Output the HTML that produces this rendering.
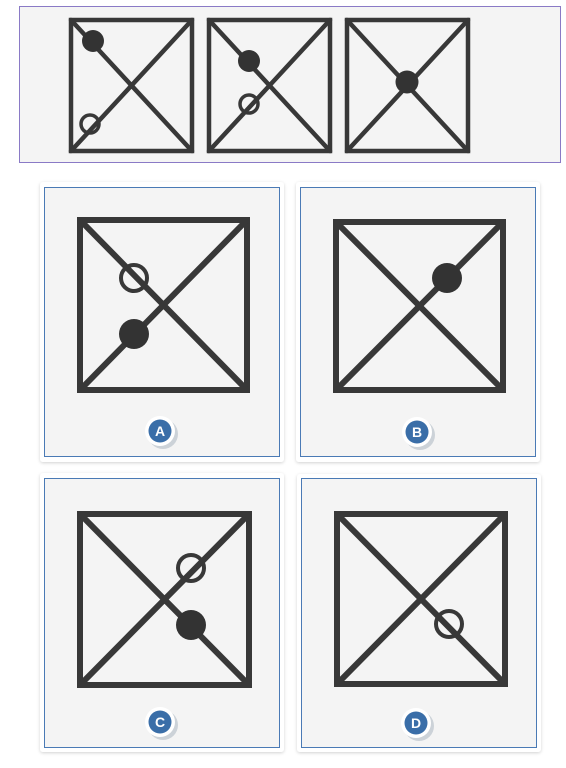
<!DOCTYPE html>
<html><head><meta charset="utf-8"><style>
body{margin:0;width:566px;height:763px;background:#fff;overflow:hidden;font-family:"Liberation Sans",sans-serif}
</style></head><body>
<svg width="566" height="763" viewBox="0 0 566 763">
<defs>
<filter id="sh" x="-10%" y="-10%" width="120%" height="120%"><feDropShadow dx="0" dy="1" stdDeviation="1.5" flood-color="#000" flood-opacity="0.18"/></filter>
</defs>
<g>
<rect x="19.5" y="6.5" width="541" height="156" fill="#f4f4f4" stroke="#8a7ac6" stroke-width="1"/>
<g stroke="#383838" stroke-width="4.5" fill="none" stroke-linecap="round">
<g>
<rect x="71" y="20" width="121" height="131"/><line x1="71" y1="20" x2="192" y2="151"/><line x1="71" y1="151" x2="192" y2="20"/>
<circle cx="93" cy="41" r="11" fill="#333" stroke="none"/><circle cx="90" cy="124" r="9" stroke-width="3.5"/>
</g>
<g>
<rect x="209" y="20" width="121" height="131"/><line x1="209" y1="20" x2="330" y2="151"/><line x1="209" y1="151" x2="330" y2="20"/>
<circle cx="249" cy="61" r="11" fill="#333" stroke="none"/><circle cx="249" cy="104" r="9" stroke-width="3.5"/>
</g>
<g>
<rect x="347" y="20" width="121" height="131"/><line x1="347" y1="20" x2="468" y2="151"/><line x1="347" y1="151" x2="468" y2="20"/>
<circle cx="407" cy="82" r="11.5" fill="#333" stroke="none"/>
</g>
</g>
</g>

<g>
<rect x="40" y="182" width="244" height="280" rx="3" fill="#fff" filter="url(#sh)"/>
<rect x="44.5" y="187.5" width="235" height="269" fill="#f4f4f4" stroke="#4a7ab5" stroke-width="1"/>
<g stroke="#383838" stroke-width="6" fill="none" stroke-linecap="round">
<rect x="80" y="220" width="167" height="170"/><line x1="80" y1="220" x2="247" y2="390"/><line x1="80" y1="390" x2="247" y2="220"/>
<circle cx="134" cy="278" r="13" stroke-width="4"/><circle cx="134" cy="334" r="15" fill="#333" stroke="none"/>
</g>
<circle cx="163" cy="434" r="15" fill="#ccd2d8"/><circle cx="160" cy="431" r="15" fill="#fff"/><circle cx="160" cy="431" r="11.5" fill="#3a6ea8"/>
<text x="160" y="436" font-size="14" font-weight="bold" fill="#fff" text-anchor="middle">A</text>
</g>

<g>
<rect x="296" y="182" width="244" height="280" rx="3" fill="#fff" filter="url(#sh)"/>
<rect x="300.5" y="187.5" width="235" height="269" fill="#f4f4f4" stroke="#4a7ab5" stroke-width="1"/>
<g stroke="#383838" stroke-width="6" fill="none" stroke-linecap="round">
<rect x="336" y="222" width="167" height="168"/><line x1="336" y1="222" x2="503" y2="390"/><line x1="336" y1="390" x2="503" y2="222"/>
<circle cx="447" cy="278" r="15" fill="#333" stroke="none"/>
</g>
<circle cx="420" cy="435" r="15" fill="#ccd2d8"/><circle cx="417" cy="432" r="15" fill="#fff"/><circle cx="417" cy="432" r="11.5" fill="#3a6ea8"/>
<text x="417" y="437" font-size="14" font-weight="bold" fill="#fff" text-anchor="middle">B</text>
</g>

<g>
<rect x="40" y="473" width="244" height="279" rx="3" fill="#fff" filter="url(#sh)"/>
<rect x="44.5" y="478.5" width="235" height="269" fill="#f4f4f4" stroke="#4a7ab5" stroke-width="1"/>
<g stroke="#383838" stroke-width="6" fill="none" stroke-linecap="round">
<rect x="80" y="514" width="169" height="171"/><line x1="80" y1="514" x2="249" y2="685"/><line x1="80" y1="685" x2="249" y2="514"/>
<circle cx="191" cy="568" r="13" stroke-width="4"/><circle cx="191" cy="625" r="15" fill="#333" stroke="none"/>
</g>
<circle cx="163" cy="725" r="15" fill="#ccd2d8"/><circle cx="160" cy="722" r="15" fill="#fff"/><circle cx="160" cy="722" r="11.5" fill="#3a6ea8"/>
<text x="160" y="727" font-size="14" font-weight="bold" fill="#fff" text-anchor="middle">C</text>
</g>

<g>
<rect x="297" y="474" width="244" height="278" rx="3" fill="#fff" filter="url(#sh)"/>
<rect x="301.5" y="478.5" width="235" height="269" fill="#f4f4f4" stroke="#4a7ab5" stroke-width="1"/>
<g stroke="#383838" stroke-width="6" fill="none" stroke-linecap="round">
<rect x="337" y="514" width="168" height="170"/><line x1="337" y1="514" x2="505" y2="684"/><line x1="337" y1="684" x2="505" y2="514"/>
<circle cx="449" cy="624" r="13" stroke-width="4"/>
</g>
<circle cx="419" cy="726" r="15" fill="#ccd2d8"/><circle cx="416" cy="723" r="15" fill="#fff"/><circle cx="416" cy="723" r="11.5" fill="#3a6ea8"/>
<text x="416" y="728" font-size="14" font-weight="bold" fill="#fff" text-anchor="middle">D</text>
</g>
</svg>
</body></html>
